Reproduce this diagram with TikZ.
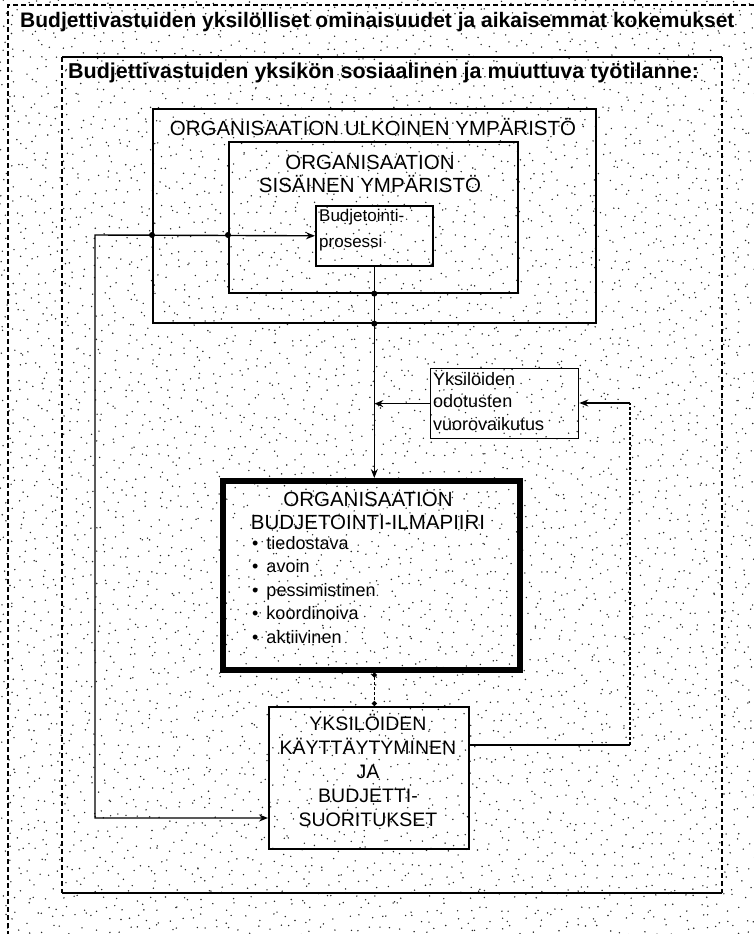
\documentclass[tikz,border=0pt]{standalone}
\usepackage{fontspec}
\setmainfont{Liberation Sans}
\usetikzlibrary{arrows.meta}
\tikzset{
  boxline/.style={draw, line width=1.6pt, inner sep=0pt, anchor=north west},
  thickbox/.style={draw, line width=5.5pt, inner sep=0pt, anchor=north west},
  boxtext/.style={font=\fontsize{20.5}{23}\selectfont, inner sep=0pt, align=center},
  lefttext/.style={font=\fontsize{18}{23}\selectfont, inner sep=0pt, align=left, anchor=north west},
  titletext/.style={font=\bfseries\fontsize{21}{24}\selectfont, inner sep=0pt, anchor=west},
  conn/.style={line width=1.4pt},
  arr/.style={line width=1.4pt, -{Stealth[length=9pt,width=7pt]}},
  jdot/.style={fill=black},
  framedash/.style={line width=1.2pt, dash pattern=on 5pt off 3pt},
  stip/.style={fill=black!85}
}
\begin{document}
\begin{tikzpicture}[x=1pt,y=-1pt]
\useasboundingbox (0,0) rectangle (754,934);
% stippled background
\pgfmathsetseed{4242}
\foreach \i in {0,...,68}{
  \foreach \j in {0,...,84}{
    \fill[stip] ({\i*11+rnd*11},{\j*11+rnd*11}) circle[radius=0.8];
  }
}
% outer frame 1
\draw[framedash] (754,5) -- (8,5) -- (8,934);
\node[titletext] (t1) at (20,22) {Budjettivastuiden yksilölliset ominaisuudet ja aikaisemmat kokemukset};
% frame 2
\draw[line width=1.6pt] (62,57) -- (722,57);
\draw[line width=1.6pt] (62,893) -- (722,893);
\draw[framedash] (62,57) -- (62,893);
\draw[framedash] (722,57) -- (722,893);
\node[titletext, font=\bfseries\fontsize{21.5}{24}\selectfont] (t2) at (68,73) {Budjettivastuiden yksikön sosiaalinen ja muuttuva työtilanne:};
% outer environment
\node[boxline, minimum width=443pt, minimum height=214pt] (ulk) at (152,108) {};
\node[boxtext] (ulkt) at (373,127) {ORGANISAATION ULKOINEN YMPÄRISTÖ};
% inner environment
\node[boxline, minimum width=289pt, minimum height=151pt] (sis) at (228,141) {};
\node[boxtext] (sist) at (370,174) {ORGANISAATION\\SISÄINEN YMPÄRISTÖ};
% budgeting process
\node[boxline, minimum width=117pt, minimum height=60pt] (bp) at (315,205) {};
\node[lefttext, font=\fontsize{17}{26}\selectfont] (bpt) at (319,209) {Budjetointi-\\prosessi};
% individuals box
\node[boxline, line width=1.3pt, minimum width=148pt, minimum height=70pt] (yk) at (430,368) {};
\node[lefttext, font=\fontsize{18}{22.5}\selectfont] (ykt) at (433,372) {Yksilöiden\\odotusten\\vuorovaikutus};
% budgeting climate
\node[thickbox, minimum width=297pt, minimum height=189pt] (ob) at (220,478) {};
\node[boxtext] (obt) at (368,511) {ORGANISAATION\\BUDJETOINTI-ILMAPIIRI};
\node[lefttext, font=\fontsize{18}{23.5}\selectfont] (obl) at (252,536)
  {\textbullet\hspace{8pt}tiedostava\\ \textbullet\hspace{8pt}avoin\\ \textbullet\hspace{8pt}pessimistinen\\ \textbullet\hspace{8pt}koordinoiva\\ \textbullet\hspace{8pt}aktiivinen};
% behaviour box
\node[boxline, line width=2pt, minimum width=200pt, minimum height=142pt] (nb) at (268,706) {};
\node[boxtext, font=\fontsize{19.5}{24}\selectfont] (nbt) at (368,770) {YKSILÖIDEN\\KÄYTTÄYTYMINEN\\JA\\BUDJETTI-\\SUORITUKSET};
% connectors
\coordinate (L1) at (95,235);
\coordinate (L2) at (95,818);
\draw[conn, {Stealth[length=9pt,width=7pt]}-{Stealth[length=9pt,width=7pt]}] (bp.west) -- (L1) -- (L2) -- (nb.west |- L2);
\fill[jdot] (ulk.west |- L1) circle[radius=3];
\fill[jdot] (sis.west |- L1) circle[radius=3];
\draw[arr] (bp.south) -- (bp.south |- ob.north);
\fill[jdot] (bp.south |- sis.south) circle[radius=3];
\fill[jdot] (bp.south |- ulk.south) circle[radius=3];
\draw[arr] (yk.west) -- (yk.west -| bp.south);
\coordinate (R1) at (630,745);
\coordinate (R2) at (630,403);
\draw[conn] (nb.east |- R1) -- (R1);
\draw[conn, densely dashed] (R1) -- (R2);
\draw[arr] (R2) -- (yk.east |- R2);
\draw[conn, densely dashed, {Circle[length=5pt]}-{Circle[length=5pt]}] (ob.south -| bp.south) -- (nb.north -| bp.south);
\end{tikzpicture}
\end{document}
